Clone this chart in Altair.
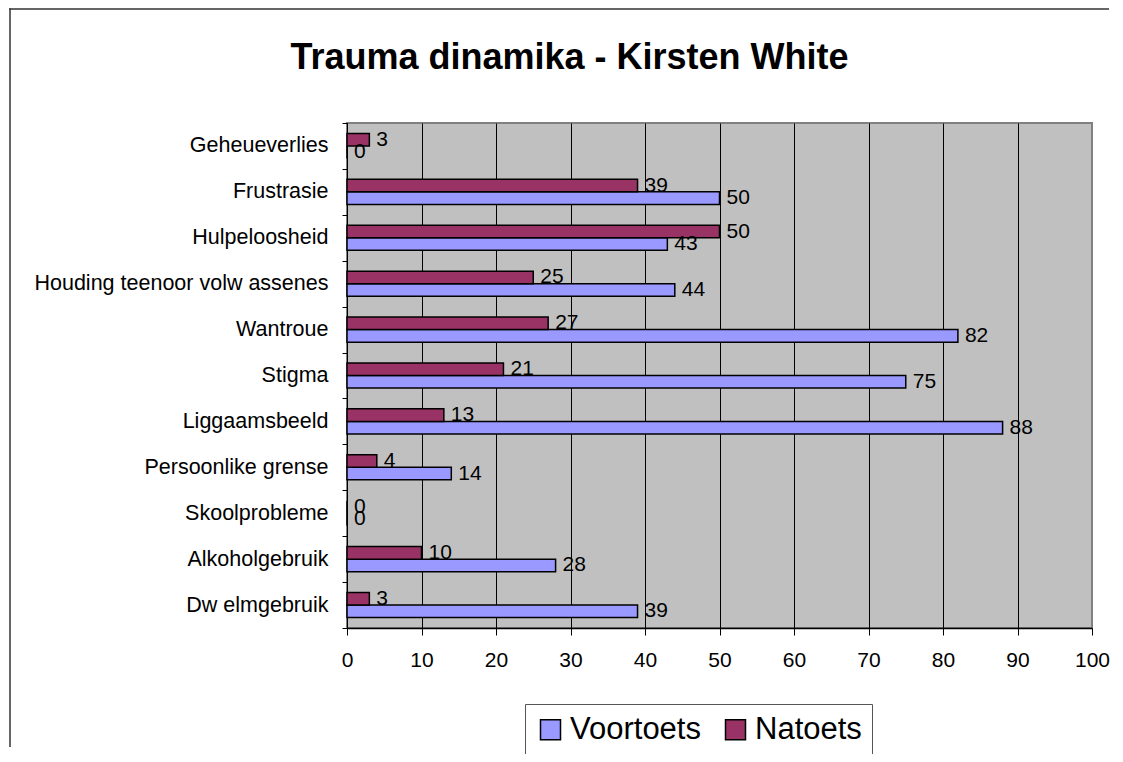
import altair as alt
import pandas as pd

title_text = "Trauma dinamika - Kirsten White"
categories = ["Geheueverlies", "Frustrasie", "Hulpeloosheid", "Houding teenoor volw assenes",
              "Wantroue", "Stigma", "Liggaamsbeeld", "Persoonlike grense", "Skoolprobleme",
              "Alkoholgebruik", "Dw elmgebruik"]
voortoets = [0, 50, 43, 44, 82, 75, 88, 14, 0, 28, 39]
natoets = [3, 39, 50, 25, 27, 21, 13, 4, 0, 10, 3]
series = ["Voortoets", "Natoets"]
colors = ["#9999FF", "#993366"]
x_ticks = list(range(0, 101, 10))

rows = []
for c, v, n in zip(categories, voortoets, natoets):
    rows.append({"cat": c, "series": "Voortoets", "value": v})
    rows.append({"cat": c, "series": "Natoets", "value": n})
df = pd.DataFrame(rows)

FONT = "Liberation Sans"

x_enc = alt.X("value:Q",
              scale=alt.Scale(domain=[0, 100], nice=False),
              axis=alt.Axis(values=x_ticks, title=None, tickSize=7, labelFontSize=21,
                            labelPadding=14, grid=True,
                            gridColor={"condition": {"test": "datum.value >= 100", "value": "#808080"},
                                       "value": "#000000"},
                            gridWidth=1, domainWidth=1.5, domainColor="#000000",
                            tickColor="#000000", labelColor="#000000", labelFont=FONT,
                            labelFlush=False))
y_enc = alt.Y("cat:N", sort=categories,
              scale=alt.Scale(paddingInner=0, paddingOuter=0),
              axis=alt.Axis(title=None, tickBand="extent", tickSize=5, labelFontSize=21.5,
                            labelPadding=14, labelLimit=600, grid=False,
                            domainColor="#000000", tickColor="#000000",
                            labelColor="#000000", labelFont=FONT))
yoff_enc = alt.YOffset("series:N", sort=["Natoets", "Voortoets"],
                       scale=alt.Scale(domain=["Natoets", "Voortoets"],
                                       paddingInner=0, paddingOuter=0.83))

base = alt.Chart(df)

bars = base.mark_bar(stroke="black", strokeWidth=1.5).encode(
    x=x_enc, y=y_enc, yOffset=yoff_enc,
    color=alt.Color("series:N",
                    scale=alt.Scale(domain=series, range=colors),
                    legend=alt.Legend(orient="none", legendX=178, legendY=581,
                                      direction="horizontal", title=None,
                                      symbolType="square", symbolSize=400,
                                      symbolStrokeColor="black", symbolStrokeWidth=1.5,
                                      labelFontSize=31, labelFont=FONT, labelColor="black",
                                      padding=10, strokeColor="#555555", fillColor="white",
                                      columnPadding=19, labelOffset=4, labelLimit=400)),
)

labels = base.mark_text(align="left", baseline="middle", dx=7, fontSize=21,
                        font=FONT, color="black").encode(
    x="value:Q", y=alt.Y("cat:N", sort=categories), yOffset=yoff_enc,
    text="value:Q",
)

one = pd.DataFrame({"t": [title_text]})
frame_left = alt.Chart(one).mark_rect(fill="#333333", strokeWidth=0).encode(
    x=alt.value(-337.75), x2=alt.value(-336.25), y=alt.value(-114.75), y2=alt.value(624))
frame_top = alt.Chart(one).mark_rect(fill="#333333", strokeWidth=0).encode(
    x=alt.value(-337.75), x2=alt.value(762), y=alt.value(-114.75), y2=alt.value(-113.25))
title = alt.Chart(one).mark_text(fontSize=36, font=FONT, fontWeight="bold", color="black",
                                 align="center", baseline="alphabetic").encode(
    text="t:N", x=alt.value(222.5), y=alt.value(-54))

chart = alt.layer(frame_left, frame_top, bars, labels, title).properties(
    width=745, height=505,
    autosize=alt.AutoSizeParams(type="none"),
    padding={"left": 339, "top": 115, "right": 23, "bottom": 126},
    background="white",
).configure_view(fill="#C0C0C0", stroke="#808080", strokeWidth=2)

chart.save("out.html", embed_options={"renderer": "svg", "actions": False})
